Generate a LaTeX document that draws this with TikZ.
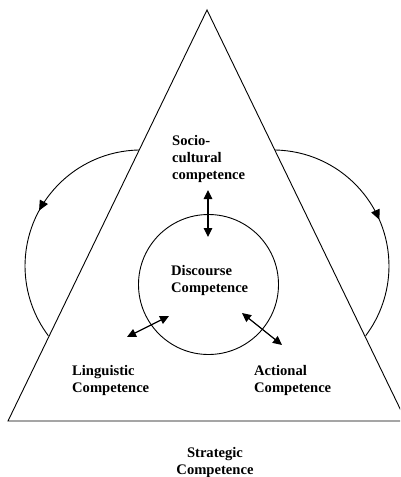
\documentclass[tikz,border=0pt]{standalone}
\usepackage{fontspec}
\setmainfont{Liberation Serif}
\usetikzlibrary{arrows.meta,decorations.markings}
\begin{document}
\begin{tikzpicture}[x=1pt,y=-1pt,
  outline/.style={line width=0.9pt},
  txt/.style={font=\fontsize{14.6}{17}\selectfont\bfseries, align=left, inner sep=0pt, anchor=north west},
  biarrow/.style={line width=1.2pt, {Triangle[length=9pt,width=8.5pt]}-{Triangle[length=9pt,width=8.5pt]}},
  cyclearc/.style={outline, postaction={decorate},
    decoration={markings, mark=at position #1 with {\arrow{Triangle[length=10pt,width=9pt]}}}}
]
\useasboundingbox (0,0) rectangle (400,477);
\clip (0,0) rectangle (400,477);

% outer triangle
\coordinate (apex) at (207,10);
\coordinate (bl) at (8,421);
\coordinate (br) at (406,421);
\draw[outline, line join=miter] (apex) -- (bl) -- (br) -- cycle;

% feedback loops on both sides
\coordinate (lt) at (139,150);
\coordinate (rt) at (275,150);
\draw[cyclearc=0.48] (lt) arc[start angle=-91, end angle=-217, radius=116];
\draw[cyclearc=0.52] (rt) arc[start angle=-89, end angle=37, radius=116];

% central circle
\node[draw, circle, outline, minimum size=140pt, inner sep=0pt] (disc) at (208.5,284.5) {};

% labels
\node[txt] (socio) at (172,135) {Socio-\\cultural\\competence};
\node[txt] (discourse) at (171,265) {Discourse\\Competence};
\node[txt] (ling) at (72,365) {Linguistic\\Competence};
\node[txt] (act) at (254,365) {Actional\\Competence};
\node[txt, align=center, anchor=north] (strat) at (215,447) {Strategic\\Competence};

% two-way links
\coordinate (sa) at (208,190);
\coordinate (sb) at (208,237);
\coordinate (la) at (127,337);
\coordinate (lb) at (169,316);
\coordinate (ra) at (242,313);
\coordinate (rb) at (282,345);
\draw[biarrow] (sa) -- (sb);
\draw[biarrow] (la) -- (lb);
\draw[biarrow] (ra) -- (rb);
\end{tikzpicture}
\end{document}
